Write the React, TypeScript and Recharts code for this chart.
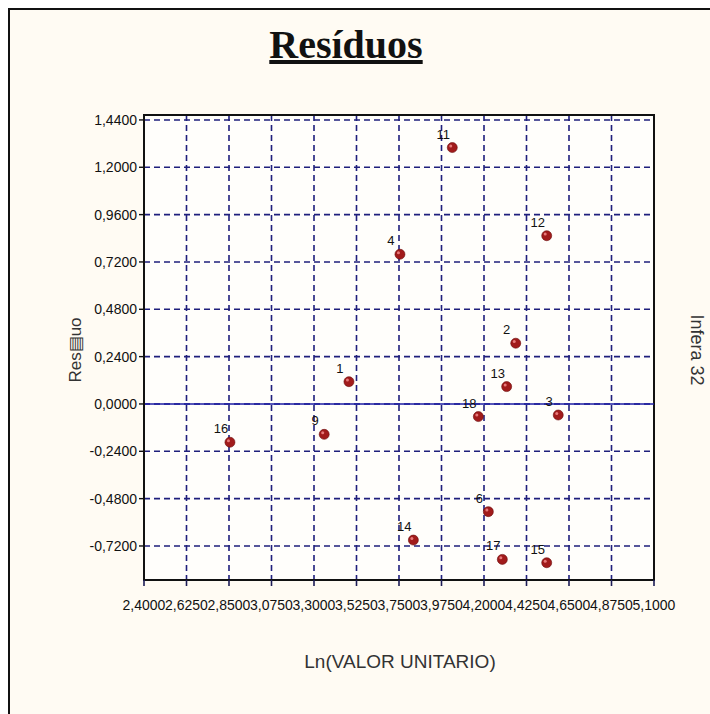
import React from 'react';
import { ScatterChart, Scatter, XAxis, YAxis, CartesianGrid, ReferenceLine, ReferenceArea } from 'recharts';

// observation numbers shown next to each point
const obsIds = ['1', '2', '3', '4', '6', '9', '11', '12', '13', '14', '15', '16', '17', '18'];
// Ln(VALOR UNITARIO)
const lnValor = [3.485, 4.368, 4.593, 3.755, 4.223, 3.354, 4.032, 4.532, 4.32, 3.826, 4.532, 2.855, 4.297, 4.17];
// residuals
const residuo = [0.113, 0.308, -0.056, 0.759, -0.546, -0.154, 1.3, 0.853, 0.088, -0.69, -0.805, -0.194, -0.788, -0.064];

const xTicks = [2.4, 2.625, 2.85, 3.075, 3.3, 3.525, 3.75, 3.975, 4.2, 4.425, 4.65, 4.875, 5.1];
const yTicks = [-0.72, -0.48, -0.24, 0, 0.24, 0.48, 0.72, 0.96, 1.2, 1.44];

const X_MIN = 2.4;
const X_MAX = 5.1;
const Y_MIN = -0.8925;
const Y_MAX = 1.465;

const points = obsIds.map((id, i) => ({ id, x: lnValor[i], y: residuo[i] }));

const fmt = (v: number) => v.toFixed(4).replace('.', ',');

const tickFont = { fontFamily: 'Arial, "Liberation Sans", sans-serif', fontSize: 14, fill: '#111' };

const Marker = (props: any) => {
  const { cx, cy, payload } = props;
  if (cx == null || cy == null) return null;
  return (
    <g>
      <circle cx={cx} cy={cy} r={5} fill="#a11b1b" stroke="#6a0c0c" strokeWidth={0.6} />
      <circle cx={cx - 1.5} cy={cy - 1.6} r={1.5} fill="#e77a7a" />
      <text
        x={cx - 9}
        y={cy - 9}
        textAnchor="middle"
        fontFamily='Arial, "Liberation Sans", sans-serif'
        fontSize={13}
        fill="#111"
      >
        {payload.id}
      </text>
    </g>
  );
};

export default function App() {
  return (
    <div
      style={{
        position: 'absolute',
        left: 8,
        top: 8,
        width: 702,
        height: 706,
        boxSizing: 'border-box',
        borderTop: '2px solid #111',
        borderLeft: '2px solid #111',
        background: '#fffbf3',
      }}
    >
      <div style={{ position: 'absolute', left: 0, top: 0 }}>
        <ScatterChart width={700} height={704} margin={{ top: 105, right: 56, left: 74, bottom: 104 }}>
          <CartesianGrid
            fill="#fffefb"
            stroke="#1f1f7c"
            strokeWidth={1.6}
            strokeDasharray="6 4"
          />
          <XAxis
            type="number"
            dataKey="x"
            domain={[X_MIN, X_MAX]}
            ticks={xTicks}
            allowDataOverflow
            interval={0}
            height={30}
            tickFormatter={fmt}
            tick={tickFont}
            tickSize={6}
            tickMargin={14}
            tickLine={{ stroke: '#1c1c55', strokeWidth: 1.6 }}
            axisLine={{ stroke: '#111', strokeWidth: 2 }}
          />
          <YAxis
            type="number"
            dataKey="y"
            domain={[Y_MIN, Y_MAX]}
            ticks={yTicks}
            allowDataOverflow
            interval={0}
            width={60}
            tickFormatter={fmt}
            tick={tickFont}
            tickSize={5}
            tickMargin={2}
            tickLine={{ stroke: '#111', strokeWidth: 1.4 }}
            axisLine={{ stroke: '#111', strokeWidth: 2 }}
          />
          <ReferenceLine y={0} stroke="#1c1ca3" strokeWidth={1.6} />
          <ReferenceArea
            x1={X_MIN}
            x2={X_MAX}
            y1={Y_MIN}
            y2={Y_MAX}
            fill="none"
            fillOpacity={0}
            stroke="#111"
            strokeWidth={2}
          />
          <Scatter data={points} dataKey="y" shape={Marker} isAnimationActive={false} />
        </ScatterChart>
      </div>
      <svg
        width={700}
        height={704}
        style={{ position: 'absolute', left: 0, top: 0, pointerEvents: 'none' }}
      >
        <text
          x={336}
          y={48}
          textAnchor="middle"
          fontFamily='"Times New Roman", "Liberation Serif", serif'
          fontWeight="bold"
          fontSize={40}
          textDecoration="underline"
          fill="#111"
        >
          Resíduos
        </text>
        <text
          x={65}
          y={340}
          transform="rotate(-90, 65, 340)"
          textAnchor="middle"
          dominantBaseline="central"
          fontFamily='Arial, "Liberation Sans", sans-serif'
          fontSize={17}
          fill="#333"
        >
          Res▤uo
        </text>
        <text
          x={687}
          y={340}
          transform="rotate(90, 687, 340)"
          textAnchor="middle"
          dominantBaseline="central"
          fontFamily='Arial, "Liberation Sans", sans-serif'
          fontSize={18}
          fill="#333"
        >
          Infera 32
        </text>
        <text
          x={390}
          y={658}
          textAnchor="middle"
          fontFamily='Arial, "Liberation Sans", sans-serif'
          fontSize={19}
          fill="#333"
        >
          Ln(VALOR UNITARIO)
        </text>
      </svg>
    </div>
  );
}
